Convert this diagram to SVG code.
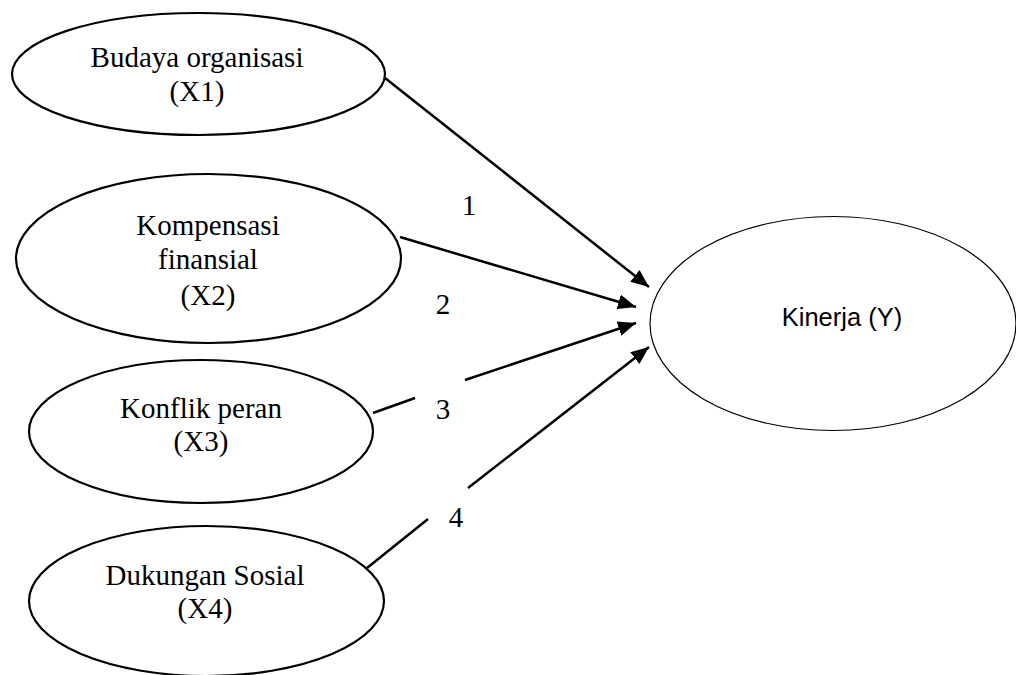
<svg xmlns="http://www.w3.org/2000/svg" width="1016" height="675" viewBox="0 0 1016 675">
<style>
.node ellipse{fill:#fff;stroke:#000;stroke-width:2.2}
.t{font-family:"Liberation Serif","Times New Roman",serif;font-size:29px;fill:#000;text-anchor:middle}
.c line{stroke:#000;stroke-width:2.5}
.y{font-family:"Liberation Sans",Arial,sans-serif;font-size:25.5px;fill:#000;text-anchor:middle}
</style>
<defs>
<marker id="ah" markerUnits="userSpaceOnUse" markerWidth="19" markerHeight="15" refX="18" refY="7.5" orient="auto">
<path d="M0,0 L18,7.5 L0,15 z" fill="#000"/>
</marker>
</defs>
<rect width="1016" height="675" fill="#fff"/>
<g id="connectors" class="c">
<line x1="385" y1="78" x2="649" y2="287" marker-end="url(#ah)"/>
<line x1="400" y1="237" x2="636" y2="307" marker-end="url(#ah)"/>
<line x1="373" y1="413" x2="415" y2="398"/>
<line x1="465" y1="380" x2="636" y2="323" marker-end="url(#ah)"/>
<line x1="367" y1="568" x2="428" y2="519"/>
<line x1="468" y1="488" x2="649" y2="347" marker-end="url(#ah)"/>
</g>
<g id="labels">
<text class="t" x="469" y="215">1</text>
<text class="t" x="443" y="314">2</text>
<text class="t" x="443" y="419">3</text>
<text class="t" x="456" y="527">4</text>
</g>
<g id="x1" class="node">
<ellipse cx="198.5" cy="74" rx="186.5" ry="61"/>
<text class="t" x="197" y="67">Budaya organisasi</text>
<text class="t" x="197" y="101">(X1)</text>
</g>
<g id="x2" class="node">
<ellipse cx="208.5" cy="258.5" rx="192.5" ry="84.5"/>
<text class="t" x="208" y="235">Kompensasi</text>
<text class="t" x="208" y="269">finansial</text>
<text class="t" x="208" y="305">(X2)</text>
</g>
<g id="x3" class="node">
<ellipse cx="201" cy="431.5" rx="172" ry="71.5"/>
<text class="t" x="201" y="418">Konflik peran</text>
<text class="t" x="201" y="451">(X3)</text>
</g>
<g id="x4" class="node">
<ellipse cx="206.5" cy="601" rx="177.5" ry="75"/>
<text class="t" x="205" y="585">Dukungan Sosial</text>
<text class="t" x="205" y="618">(X4)</text>
</g>
<g id="y" class="node">
<ellipse cx="833" cy="323.5" rx="183" ry="107" style="stroke-width:1.2"/>
<text class="y" x="842" y="326">Kinerja (Y)</text>
</g>
</svg>
